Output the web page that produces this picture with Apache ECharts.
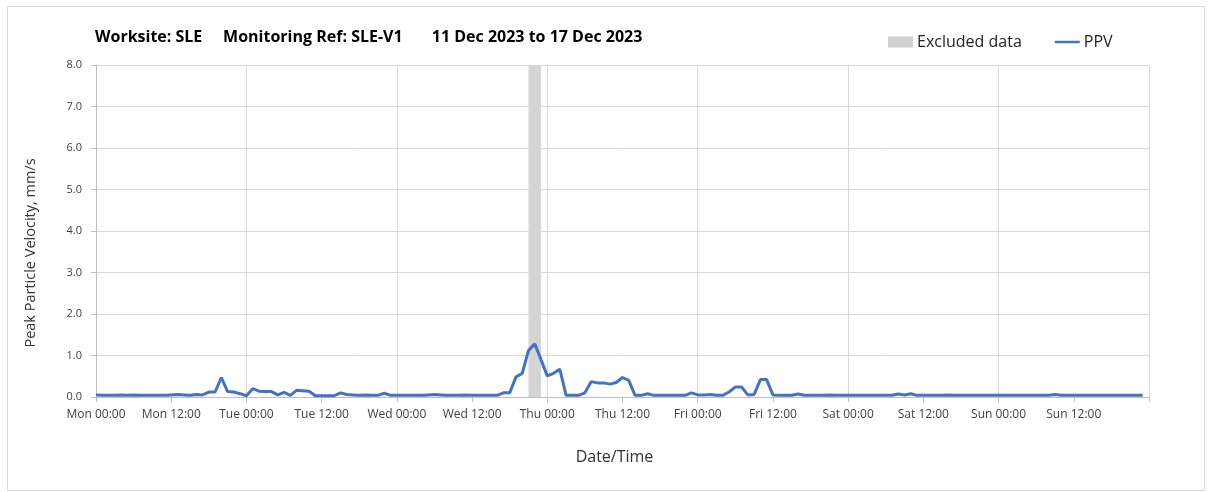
<!DOCTYPE html>
<html>
<head>
<meta charset="utf-8">
<script src="https://cdn.jsdelivr.net/npm/echarts@6/dist/echarts.min.js"></script>
<style>
html,body{margin:0;padding:0;background:#fff;}
#chart{width:1208px;height:492px;}
</style>
</head>
<body>
<div id="chart"></div>
<script>
// Hours since Mon 11 Dec 2023 00:00 (hourly readings)
const ppvValues = [
  0.05,0.04,0.04,0.04,0.05,0.04,0.05,0.04,0.04,0.04,0.04,0.04,
  0.05,0.06,0.05,0.04,0.06,0.05,0.12,0.12,0.47,0.13,0.12,0.08,
  0.03,0.20,0.14,0.13,0.13,0.05,0.11,0.04,0.16,0.15,0.14,0.03,
  0.03,0.03,0.03,0.10,0.06,0.05,0.04,0.05,0.04,0.04,0.09,0.04,
  0.04,0.04,0.04,0.04,0.04,0.05,0.06,0.05,0.04,0.04,0.04,0.05,
  0.04,0.04,0.04,0.04,0.04,0.10,0.10,0.48,0.57,1.12,1.28,0.90,
  0.51,0.57,0.67,0.04,0.04,0.04,0.10,0.37,0.34,0.34,0.31,0.35,
  0.47,0.40,0.04,0.04,0.08,0.04,0.04,0.04,0.04,0.04,0.04,0.10,
  0.05,0.05,0.06,0.04,0.04,0.12,0.24,0.24,0.05,0.06,0.42,0.42,
  0.05,0.04,0.04,0.04,0.07,0.04,0.04,0.04,0.04,0.05,0.04,0.04,
  0.04,0.04,0.04,0.04,0.04,0.04,0.04,0.04,0.07,0.05,0.08,0.04,
  0.04,0.04,0.04,0.04,0.05,0.04,0.04,0.04,0.04,0.04,0.04,0.04,
  0.04,0.04,0.04,0.04,0.04,0.04,0.04,0.04,0.04,0.06,0.04,0.04,
  0.04,0.04,0.04,0.04,0.04,0.04,0.04,0.04,0.04,0.04,0.04,0.04
];
const excludedRanges = [[69, 71]];
const xTickLabels = ['Mon 00:00','Mon 12:00','Tue 00:00','Tue 12:00','Wed 00:00','Wed 12:00',
  'Thu 00:00','Thu 12:00','Fri 00:00','Fri 12:00','Sat 00:00','Sat 12:00','Sun 00:00','Sun 12:00'];
const titleText = 'Worksite: SLE     Monitoring Ref: SLE-V1       11 Dec 2023 to 17 Dec 2023';

const ppvData = ppvValues.map((v, i) => [i, v]);
const FONT = '"Open Sans", "Noto Sans", sans-serif';

const chart = echarts.init(document.getElementById('chart'));
chart.setOption({
  animation: false,
  backgroundColor: '#ffffff',
  textStyle: { fontFamily: FONT },
  graphic: [{
    type: 'rect', left: 5, top: 4, z: -10,
    shape: { width: 1197, height: 484 },
    style: { fill: 'none', stroke: '#d9d9d9', lineWidth: 1 }
  }],
  title: {
    text: titleText, left: 90, top: 24,
    textStyle: { fontFamily: FONT, fontSize: 16, fontWeight: 'bold', color: '#000' }
  },
  legend: {
    left: 883, top: 29, itemGap: 33, itemWidth: 25, itemHeight: 11,
    textStyle: { fontFamily: FONT, fontSize: 16, color: '#222', padding: [0,0,0,-1] },
    data: [
      { name: 'Excluded data', icon: 'rect', itemStyle: { color: '#d0d0d0' } },
      { name: 'PPV', icon: 'path://M0,4.5 L25,4.5 L25,7 L0,7 Z', itemStyle: { color: '#4472C4' } }
    ]
  },
  grid: { left: 96, right: 59, top: 65, bottom: 95 },
  xAxis: [{
    type: 'value', min: 0, max: 168, interval: 12,
    name: 'Date/Time', nameLocation: 'middle', nameGap: 52,
    nameTextStyle: { fontFamily: FONT, fontSize: 16, color: '#333', padding: [0, 16, 0, 0] },
    axisLine: { show: true, lineStyle: { color: '#bfbfbf' } },
    axisTick: { show: true, length: 5, lineStyle: { color: '#bfbfbf' } },
    axisLabel: {
      fontFamily: FONT, fontSize: 12, color: '#404040', margin: 12,
      formatter: v => xTickLabels[Math.round(v / 12)] || ''
    },
    splitLine: { show: false }
  }, {
    type: 'value', min: 0, max: 168, interval: 24, position: 'bottom',
    axisLine: { show: false }, axisTick: { show: false }, axisLabel: { show: false },
    splitLine: { show: true, lineStyle: { color: '#d9d9d9', width: 1 } }
  }],
  yAxis: {
    type: 'value', min: 0, max: 8, interval: 1,
    name: 'Peak Particle Velocity, mm/s', nameLocation: 'middle', nameGap: 58,
    nameTextStyle: { fontFamily: FONT, fontSize: 14.5, color: '#333', padding: [0, 44, 0, 0] },
    axisLine: { show: true, lineStyle: { color: '#bfbfbf' } },
    axisTick: { show: true, length: 5, lineStyle: { color: '#bfbfbf' } },
    axisLabel: { fontFamily: FONT, fontSize: 11, color: '#404040', margin: 14,
      formatter: v => v.toFixed(1) },
    splitLine: { show: true, lineStyle: { color: '#d9d9d9', width: 1 } }
  },
  series: [{
    name: 'Excluded data', type: 'line', data: [], xAxisIndex: 0,
    itemStyle: { color: '#d0d0d0' },
    markArea: {
      silent: true,
      itemStyle: { color: '#d4d4d4' },
      data: excludedRanges.map(r => [{ xAxis: r[0] }, { xAxis: r[1] }])
    }
  }, {
    name: 'PPV', type: 'line', data: ppvData, xAxisIndex: 0,
    showSymbol: false, symbol: 'none',
    lineStyle: { color: '#4472C4', width: 3 },
    itemStyle: { color: '#4472C4' }, z: 5
  }]
});
</script>
</body>
</html>
